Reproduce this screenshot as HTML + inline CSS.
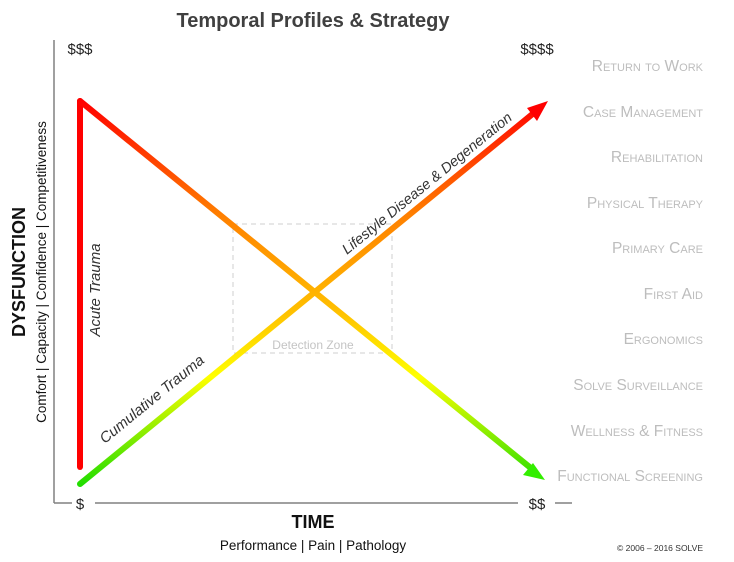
<!DOCTYPE html>
<html><head><meta charset="utf-8"><style>
body{margin:0;background:#fff}
svg{display:block;font-family:"Liberation Sans",sans-serif}
.lab{font-size:15.5px;fill:#bdbdbd;font-variant:small-caps;text-anchor:end}
</style></head><body>
<svg width="734" height="562" viewBox="0 0 734 562">
<defs>
<linearGradient id="g" gradientUnits="userSpaceOnUse" x1="0" y1="101" x2="0" y2="484">
<stop offset="0" stop-color="#ff0000"/><stop offset="0.3" stop-color="#ff8000"/><stop offset="0.55" stop-color="#ffc000"/><stop offset="0.72" stop-color="#ffff00"/><stop offset="1" stop-color="#22dd00"/>
</linearGradient>
</defs>
<text x="313" y="27" text-anchor="middle" font-size="20" font-weight="bold" fill="#404040">Temporal Profiles &amp; Strategy</text>
<g stroke="#808080" stroke-width="1.5">
<line x1="54" y1="40" x2="54" y2="503"/>
<line x1="54" y1="503" x2="72" y2="503"/>
<line x1="95" y1="503" x2="518" y2="503"/>
<line x1="555" y1="503" x2="572" y2="503"/>
</g>
<text x="80" y="509" text-anchor="middle" font-size="15" fill="#222">$</text>
<text x="537" y="509" text-anchor="middle" font-size="15" fill="#222">$$</text>
<text x="80" y="54" text-anchor="middle" font-size="15" fill="#222">$$$</text>
<text x="537" y="54" text-anchor="middle" font-size="15" fill="#222">$$$$</text>
<rect x="233" y="224" width="159" height="129" fill="none" stroke="#cfcfcf" stroke-dasharray="5,4"/>
<text x="313" y="349" text-anchor="middle" font-size="12" fill="#c4c4c4">Detection Zone</text>
<line x1="80" y1="467" x2="80" y2="101" stroke="#ff0000" stroke-width="6" stroke-linecap="round"/>
<path d="M80,101 L532,469" stroke="url(#g)" stroke-width="6" fill="none" stroke-linecap="round"/>
<polygon points="545,480 523,475 533,463" fill="#33ee00"/>
<path d="M80,484 L535,112" stroke="url(#g)" stroke-width="6" fill="none" stroke-linecap="round"/>
<polygon points="548,101 537,121 527,108" fill="#ff0000"/>
<text transform="translate(100,290) rotate(-90)" text-anchor="middle" font-size="15" font-style="italic" fill="#333">Acute Trauma</text>
<text transform="translate(155,403) rotate(-39.3)" text-anchor="middle" font-size="15" font-style="italic" fill="#333">Cumulative Trauma</text>
<text transform="translate(430,187) rotate(-39.3)" text-anchor="middle" font-size="14.5" font-style="italic" fill="#333">Lifestyle Disease &amp; Degeneration</text>
<text transform="translate(25,272) rotate(-90)" text-anchor="middle" font-size="18" font-weight="bold" fill="#111">DYSFUNCTION</text>
<text transform="translate(46,272) rotate(-90)" text-anchor="middle" font-size="13.5" fill="#111">Comfort | Capacity | Confidence | Competitiveness</text>
<text x="313" y="528" text-anchor="middle" font-size="18" font-weight="bold" fill="#111">TIME</text>
<text x="313" y="550" text-anchor="middle" font-size="13.5" fill="#111">Performance | Pain | Pathology</text>
<g>
<text class="lab" x="703" y="71">Return to Work</text>
<text class="lab" x="703" y="117">Case Management</text>
<text class="lab" x="703" y="162">Rehabilitation</text>
<text class="lab" x="703" y="208">Physical Therapy</text>
<text class="lab" x="703" y="253">Primary Care</text>
<text class="lab" x="703" y="299">First Aid</text>
<text class="lab" x="703" y="344">Ergonomics</text>
<text class="lab" x="703" y="390">Solve Surveillance</text>
<text class="lab" x="703" y="436">Wellness &amp; Fitness</text>
<text class="lab" x="703" y="481">Functional Screening</text>
</g>
<text x="703" y="551" text-anchor="end" font-size="8.5" fill="#333">© 2006 – 2016 SOLVE</text>
</svg>
</body></html>
